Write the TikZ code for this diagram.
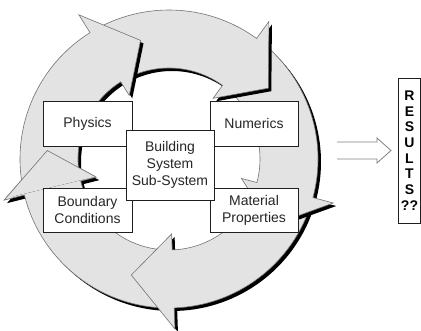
\documentclass[tikz,border=0pt]{standalone}
\usepackage{fontspec}
\setmainfont{Liberation Sans}
\definecolor{ringfill}{gray}{0.89}
\definecolor{ringline}{gray}{0.45}
\definecolor{boxline}{gray}{0.12}
\definecolor{arrline}{gray}{0.5}
% #1 tail angle, #2 barb angle, #3 tip angle (clockwise arrow, math angles)
\newcommand\ringpath[3]{(#1:91pt) arc[start angle=#1, end angle=#2, radius=91pt] -- (#2:75pt) -- (#3:122pt) -- (#2:170pt) -- (#2:149pt) arc[start angle=#2, end angle=#1, radius=149pt] -- cycle}
\newcommand\ringarrow[3]{%
  \fill[black, shift={(3pt,-3pt)}] \ringpath{#1}{#2}{#3};
  \filldraw[fill=ringfill, draw=ringline, line width=0.6pt, line join=miter] \ringpath{#1}{#2}{#3};
}
\tikzset{
  part/.style={draw=boxline, fill=white, line width=0.7pt, align=center,
    font=\fontsize{14}{17}\selectfont, text=black!85, inner sep=0pt},
  results/.style={draw=boxline, fill=white, line width=0.7pt, align=center,
    font=\fontsize{14}{15.7}\selectfont\bfseries, inner sep=0pt,
    minimum width=22pt, minimum height=145pt},
  hollow/.style={draw=arrline, line width=0.8pt, line join=miter}
}
\begin{document}
\begin{tikzpicture}[x=1pt, y=-1pt]
\useasboundingbox (0,0) rectangle (421,330);
\fill[white] (0,0) rectangle (421,330);
% ring of arrows, centre at (169,159)
\begin{scope}[shift={(169,159)}, y=1pt]
  \coordinate (ringc) at (0,0);
  \ringarrow{268}{194}{176}   % left arrow (L)
  \ringarrow{-19}{-88}{-108}  % bottom arrow (B)
  \ringarrow{50}{-15}{-33}    % right arrow (R)
  \ringarrow{118}{54}{35.5}   % top-right arrow (T2)
  \ringarrow{190}{122}{103.5} % top-left arrow (T1)
  \begin{scope}
    \clip (0,0) -- (193.5:210pt) arc[start angle=193.5, end angle=150, radius=210pt] -- cycle;
    \ringarrow{268}{194}{176}
  \end{scope}
\end{scope}
% boxes
\node[part, minimum width=89pt, minimum height=45pt] (physics) at (87.5,123.5) {Physics};
\node[part, minimum width=88pt, minimum height=45pt] (numerics) at (254,123.5) {Numerics};
\node[part, minimum width=89pt, minimum height=44pt] (boundary) at (87.5,210) {Boundary\\Conditions};
\node[part, minimum width=88pt, minimum height=44pt] (material) at (254,210) {Material\\Properties};
\node[part, minimum width=88pt, minimum height=70pt] (centre) at (170,165) {Building\\System\\Sub-System};
% results
\node[results] (res) at (409.5,150.5) {R\\E\\S\\U\\L\\T\\S\\??};
% hollow double arrow
\coordinate (astart) at (337,150.5);
\coordinate (atip) at (391,150.5);
\draw[hollow] ([yshift=-8.5]astart) -- ([xshift=-14,yshift=-8.5]atip) -- ([xshift=-14,yshift=-12.5]atip) -- (atip)
  -- ([xshift=-14,yshift=12.5]atip) -- ([xshift=-14,yshift=8.5]atip) -- ([yshift=8.5]astart);
\end{tikzpicture}
\end{document}
